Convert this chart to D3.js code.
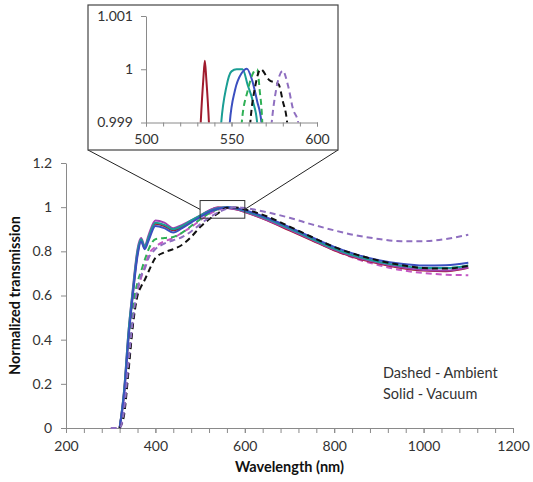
<!DOCTYPE html>
<html>
<head>
<meta charset="utf-8">
<script src="https://cdn.jsdelivr.net/npm/d3@7"></script>
<style>
  body { margin: 0; background: #fff; }
  text { font-family: Lato, "Open Sans", sans-serif; fill: #333; }
  .axis path, .axis line { stroke: #8a8a8a; }
</style>
</head>
<body>
<div id="chart"></div>
<script>
/* Normalized transmission vs wavelength, with zoomed inset of the peak */

// wavelength grid (nm) shared by the main curves
const wavelengths = [300, 320, 330, 340, 350, 360, 368, 376, 385, 400, 420, 440, 460, 480, 500, 520, 540, 560, 580, 600, 650, 700, 750, 800, 850, 900, 950, 1000, 1050, 1100];

// solid - vacuum (null = not measured)
const redSolid     = [null, 0, 0.16, 0.42, 0.62, 0.79, 0.85, 0.815, 0.86, 0.925, 0.915, 0.895, 0.91, 0.935, 0.96, 0.983, 0.998, 0.997, 0.99, 0.978, 0.94, 0.895, 0.85, 0.805, 0.77, 0.745, 0.725, 0.713, 0.71, 0.725];
const tealSolid    = [null, 0, 0.17, 0.44, 0.63, 0.80, 0.855, 0.82, 0.865, 0.93, 0.92, 0.9, 0.915, 0.94, 0.962, 0.982, 0.995, 1.0, 0.994, 0.983, 0.947, 0.903, 0.857, 0.812, 0.777, 0.752, 0.735, 0.724, 0.724, 0.736];
const blueSolid    = [null, 0, 0.15, 0.41, 0.61, 0.78, 0.845, 0.81, 0.85, 0.915, 0.905, 0.885, 0.905, 0.93, 0.955, 0.978, 0.993, 1.0, 0.996, 0.986, 0.952, 0.909, 0.864, 0.82, 0.785, 0.76, 0.744, 0.736, 0.737, 0.748];
const magentaSolid = [null, 0, 0.17, 0.44, 0.64, 0.81, 0.86, 0.825, 0.875, 0.94, 0.93, 0.905, 0.92, 0.94, 0.962, 0.985, 0.999, 0.996, 0.99, 0.979, 0.942, 0.898, 0.853, 0.808, 0.773, 0.748, 0.728, 0.716, 0.713, 0.727];

// dashed - ambient
const greenDashed   = [null, 0, 0.1, 0.34, 0.55, 0.66, 0.71, 0.76, 0.81, 0.855, 0.86, 0.865, 0.885, 0.915, 0.945, 0.972, 0.99, 0.999, 0.996, 0.987, 0.952, 0.908, 0.862, 0.817, 0.78, 0.754, 0.736, 0.725, 0.724, 0.735];
const blackDashed   = [null, 0, 0.06, 0.26, 0.47, 0.6, 0.64, 0.67, 0.71, 0.77, 0.795, 0.81, 0.83, 0.865, 0.91, 0.945, 0.972, 0.997, 0.998, 0.99, 0.958, 0.912, 0.865, 0.82, 0.785, 0.758, 0.738, 0.724, 0.722, 0.734];
const purpleDashed  = [0, 0, 0.08, 0.3, 0.5, 0.63, 0.69, 0.72, 0.77, 0.81, 0.835, 0.85, 0.865, 0.89, 0.922, 0.952, 0.976, 0.993, 1.0, 0.996, 0.977, 0.952, 0.922, 0.895, 0.872, 0.856, 0.846, 0.846, 0.856, 0.875];
const magentaDashed = [null, 0, 0.08, 0.29, 0.49, 0.62, 0.68, 0.73, 0.785, 0.82, 0.845, 0.86, 0.885, 0.91, 0.94, 0.968, 0.988, 0.998, 0.995, 0.985, 0.947, 0.9, 0.852, 0.805, 0.766, 0.737, 0.715, 0.702, 0.694, 0.692];

// inset (500-600 nm), close-up of the peaks: [nm, value]
const insetRed    = [[530, 0.9975], [532, 0.999], [533.5, 0.9998], [534.4, 1.00016], [535.3, 0.9998], [536.8, 0.999], [538.5, 0.9975]];
const insetTeal   = [[542, 0.998], [544, 0.999], [547, 0.99967], [550, 0.99996], [553, 1.0], [556.5, 1.0], [559.5, 0.9997], [562.5, 0.9994], [565, 0.999], [567, 0.998]];
const insetBlue   = [[547, 0.998], [549, 0.999], [552, 0.9996], [556, 0.99993], [559, 1.00001], [562, 0.9998], [565, 0.9994], [567.5, 0.999], [569, 0.998]];
const insetGreen  = [[554, 0.998], [556, 0.999], [559.5, 0.9996], [563, 0.99995], [565, 1.0], [566.5, 0.9996], [568, 0.999], [569, 0.998]];
const insetBlack  = [[559, 0.998], [561, 0.999], [564, 0.9997], [567, 1.0], [572, 0.9998], [577.5, 0.99972], [580, 0.9994], [582.5, 0.999], [584, 0.998]];
const insetPurple = [[571, 0.998], [573.5, 0.999], [576, 0.9996], [580, 0.99997], [583, 0.9997], [586, 0.99925], [589, 0.999], [591, 0.998]];

const series = [
    { v: magentaDashed, color: "#c458c4", dash: true },
    { v: greenDashed,   color: "#2fb055", dash: true },
    { v: redSolid,      color: "#a01b2d", dash: false },
    { v: magentaSolid,  color: "#a040b0", dash: false },
    { v: tealSolid,     color: "#1a9e94", dash: false },
    { v: blueSolid,     color: "#3b4fc0", dash: false },
    { v: blackDashed,   color: "#111111", dash: true },
    { v: purpleDashed,  color: "#8f6fc0", dash: true }
];

const insetSeries = [
    { v: insetRed,    color: "#a01b2d", dash: false },
    { v: insetTeal,   color: "#1a9e94", dash: false },
    { v: insetBlue,   color: "#3b4fc0", dash: false },
    { v: insetGreen,  color: "#2fb055", dash: true },
    { v: insetBlack,  color: "#111111", dash: true },
    { v: insetPurple, color: "#8f6fc0", dash: true }
];

const xTicks = [200, 400, 600, 800, 1000, 1200];
const yTicks = [0, 0.2, 0.4, 0.6, 0.8, 1, 1.2];
const insetXTicks = [500, 550, 600];
const insetYTicks = [0.999, 1, 1.001];

const width = 533, height = 482;
const margin = { top: 163, right: 20, bottom: 54, left: 66 };

const svg = d3.select("#chart").append("svg")
    .attr("width", width).attr("height", height);

const x = d3.scaleLinear().domain([200, 1200]).range([margin.left, width - margin.right]);
const y = d3.scaleLinear().domain([0, 1.2]).range([height - margin.bottom, margin.top]);

// minor x ticks every 40 nm
svg.append("g")
    .attr("class", "axis")
    .attr("transform", `translate(0,${y(0)})`)
    .call(d3.axisBottom(x).tickValues(d3.range(200, 1201, 40)).tickSize(5).tickFormat(""))
    .call(g => g.select(".domain").remove());

svg.append("g")
    .attr("class", "axis")
    .attr("transform", `translate(0,${y(0)})`)
    .call(d3.axisBottom(x).tickValues(xTicks).tickSize(5).tickSizeOuter(0).tickPadding(8).tickFormat(d3.format("d")))
    .call(g => g.selectAll("text").style("font-size", "14px").attr("font-family", null));

svg.append("g")
    .attr("class", "axis")
    .attr("transform", `translate(${x(200)},0)`)
    .call(d3.axisLeft(y).tickValues(yTicks).tickSize(5).tickSizeOuter(0).tickPadding(9).tickFormat(d => String(d)))
    .call(g => g.selectAll("text").style("font-size", "14px").attr("font-family", null));

// curves
const line = d3.line()
    .defined(d => d !== null)
    .x((d, i) => x(wavelengths[i]))
    .y(d => y(d))
    .curve(d3.curveMonotoneX);

svg.append("g").selectAll("path")
    .data(series)
    .join("path")
    .attr("d", d => line(d.v))
    .attr("fill", "none")
    .attr("stroke", d => d.color)
    .attr("stroke-width", 2)
    .attr("stroke-dasharray", d => d.dash ? "6,4" : null);

// zoom box in the main plot + connectors to the inset
const box = { x0: 500, x1: 600, y0: 0.95, y1: 1.03 };
svg.append("rect")
    .attr("x", x(box.x0)).attr("y", y(box.y1))
    .attr("width", x(box.x1) - x(box.x0))
    .attr("height", y(box.y0) - y(box.y1))
    .attr("fill", "none").attr("stroke", "#333").attr("stroke-width", 1);

const inset = { left: 88, top: 5, right: 338, bottom: 150 };
const yMid = (y(box.y0) + y(box.y1)) / 2;
svg.append("line")
    .attr("x1", inset.left).attr("y1", inset.bottom)
    .attr("x2", x(box.x0)).attr("y2", yMid)
    .attr("stroke", "#222").attr("stroke-width", 1);
svg.append("line")
    .attr("x1", inset.right).attr("y1", inset.bottom)
    .attr("x2", x(box.x1)).attr("y2", yMid)
    .attr("stroke", "#222").attr("stroke-width", 1);

// inset panel
svg.append("rect")
    .attr("x", inset.left).attr("y", inset.top)
    .attr("width", inset.right - inset.left).attr("height", inset.bottom - inset.top)
    .attr("fill", "#fff").attr("stroke", "#444").attr("stroke-width", 1.2);

const ix = d3.scaleLinear().domain([500, 600]).range([146, 317]);
const iy = d3.scaleLinear().domain([0.999, 1.001]).range([122.5, 16]);

svg.append("clipPath").attr("id", "insetClip")
    .append("rect")
    .attr("x", ix(500)).attr("y", iy(1.001) - 10)
    .attr("width", ix(600) - ix(500)).attr("height", iy(0.999) - iy(1.001) + 10);

const iline = d3.line()
    .x(d => ix(d[0]))
    .y(d => iy(d[1]))
    .curve(d3.curveMonotoneX);

svg.append("g")
    .attr("clip-path", "url(#insetClip)")
    .selectAll("path")
    .data(insetSeries)
    .join("path")
    .attr("d", d => iline(d.v))
    .attr("fill", "none")
    .attr("stroke", d => d.color)
    .attr("stroke-width", 2)
    .attr("stroke-dasharray", d => d.dash ? "6,4" : null);

svg.append("g")
    .attr("class", "axis")
    .attr("transform", `translate(0,${iy(0.999)})`)
    .call(d3.axisBottom(ix).tickValues(d3.range(500, 601, 10)).tickSize(4).tickFormat(""))
    .call(g => g.select(".domain").remove());

svg.append("g")
    .attr("class", "axis")
    .attr("transform", `translate(0,${iy(0.999)})`)
    .call(d3.axisBottom(ix).tickValues(insetXTicks).tickSize(4).tickSizeOuter(0).tickPadding(8))
    .call(g => g.selectAll("text").style("font-size", "14px").attr("font-family", null));

svg.append("g")
    .attr("class", "axis")
    .attr("transform", `translate(${ix(500)},0)`)
    .call(d3.axisLeft(iy).tickValues(insetYTicks).tickSize(5).tickSizeOuter(0).tickPadding(8).tickFormat(d => d === 1 ? "1" : d3.format(".3f")(d)))
    .call(g => g.selectAll("text").style("font-size", "14px").attr("font-family", null));

// axis titles
svg.append("text")
    .attr("x", (x(200) + x(1200)) / 2)
    .attr("y", 472)
    .attr("text-anchor", "middle")
    .style("font-size", "14.5px")
    .style("font-weight", "bold")
    .style("fill", "#111")
    .text("Wavelength (nm)");

svg.append("text")
    .attr("transform", `translate(20,${(y(0) + y(1.2)) / 2}) rotate(-90)`)
    .attr("text-anchor", "middle")
    .style("font-size", "14.5px")
    .style("font-weight", "bold")
    .style("fill", "#111")
    .text("Normalized transmission");

// legend note
svg.append("text")
    .attr("x", 383).attr("y", 378)
    .style("font-size", "14.5px")
    .text("Dashed - Ambient");
svg.append("text")
    .attr("x", 383).attr("y", 399)
    .style("font-size", "14.5px")
    .text("Solid - Vacuum");
</script>
</body>
</html>
